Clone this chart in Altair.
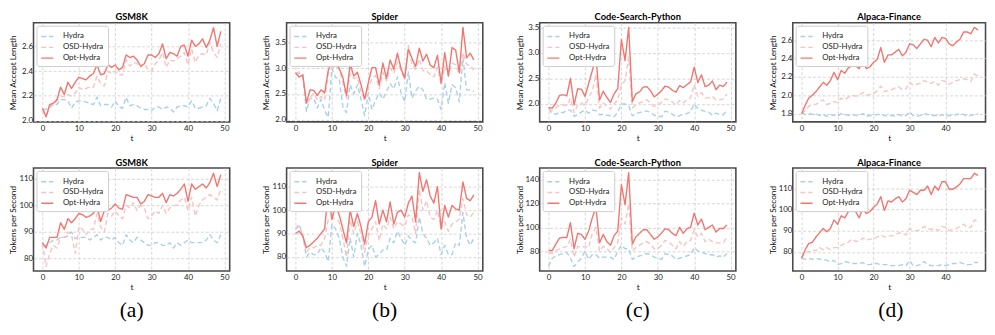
import altair as alt
import pandas as pd

t = list(range(50))
series_names = ["Hydra", "OSD-Hydra", "Opt-Hydra"]
series_colors = ["#a9d0e6", "#f8c3c3", "#f0766f"]

# ---- Mean Accept Length ----
gsm_acc_hydra = [2.09, 2.09, 2.12, 2.14, 2.13, 2.17, 2.17, 2.16, 2.10, 2.15, 2.16, 2.16, 2.15, 2.14, 2.13, 2.19, 2.12, 2.13, 2.13, 2.11,
                 2.16, 2.11, 2.10, 2.19, 2.12, 2.13, 2.12, 2.10, 2.09, 2.09, 2.08, 2.11, 2.11, 2.09, 2.11, 2.10, 2.07, 2.11, 2.12, 2.12,
                 2.11, 2.16, 2.10, 2.10, 2.11, 2.12, 2.18, 2.14, 2.08, 2.18]
gsm_acc_osd = [2.09, 2.04, 2.10, 2.13, 2.16, 2.20, 2.19, 2.21, 2.20, 2.22, 2.27, 2.25, 2.26, 2.27, 2.27, 2.36, 2.30, 2.28, 2.40, 2.38,
               2.40, 2.37, 2.37, 2.49, 2.44, 2.47, 2.46, 2.43, 2.46, 2.41, 2.40, 2.46, 2.49, 2.55, 2.43, 2.49, 2.48, 2.50, 2.52, 2.55,
               2.45, 2.58, 2.47, 2.53, 2.54, 2.53, 2.63, 2.55, 2.51, 2.62]
gsm_acc_opt = [2.10, 2.03, 2.13, 2.14, 2.17, 2.27, 2.21, 2.31, 2.26, 2.31, 2.35, 2.34, 2.33, 2.36, 2.38, 2.45, 2.37, 2.38, 2.45, 2.43,
               2.45, 2.41, 2.43, 2.53, 2.51, 2.52, 2.49, 2.44, 2.46, 2.53, 2.53, 2.51, 2.54, 2.62, 2.50, 2.55, 2.54, 2.52, 2.60, 2.61,
               2.52, 2.65, 2.60, 2.62, 2.66, 2.59, 2.65, 2.75, 2.60, 2.72]

spider_acc_hydra = [2.92, 2.90, 2.84, 2.16, 2.42, 2.42, 2.23, 2.40, 2.18, 2.05, 3.00, 2.82, 2.80, 2.25, 2.14, 2.68, 2.50, 2.68, 2.40, 2.08,
                    2.52, 2.20, 2.38, 2.52, 2.40, 2.55, 2.70, 2.60, 2.83, 2.52, 2.35, 2.93, 2.42, 2.56, 2.65, 2.58, 2.40, 2.40, 2.42, 2.40,
                    2.20, 2.72, 2.32, 2.68, 2.62, 2.35, 3.20, 2.58, 2.58, 2.55]
spider_acc_osd = [2.90, 2.93, 2.88, 2.30, 2.43, 2.52, 2.38, 2.45, 2.38, 2.90, 3.00, 3.05, 2.98, 2.72, 2.42, 2.90, 2.80, 2.82, 2.55, 2.38,
                  2.62, 2.80, 2.86, 2.60, 2.92, 2.75, 3.00, 2.90, 3.12, 2.95, 2.78, 3.44, 3.07, 2.98, 3.18, 2.95, 2.95, 2.88, 2.83, 3.02,
                  2.69, 3.04, 2.85, 3.10, 3.07, 2.88, 3.30, 3.07, 3.05, 2.96]
spider_acc_opt = [2.91, 2.83, 2.87, 2.33, 2.58, 2.57, 2.47, 2.58, 2.52, 2.96, 3.12, 3.14, 3.00, 2.82, 2.47, 3.08, 2.85, 2.92, 2.68, 2.40,
                  2.72, 3.01, 3.01, 2.68, 3.10, 2.80, 3.16, 2.98, 3.29, 2.99, 2.81, 3.37, 3.19, 3.03, 3.39, 3.14, 3.27, 3.06, 3.01, 3.25,
                  2.71, 3.30, 2.85, 3.40, 3.35, 2.92, 3.79, 3.20, 3.29, 3.16]

code_acc_hydra = [1.91, 1.81, 1.80, 1.84, 1.83, 1.88, 1.88, 1.76, 1.79, 1.84, 1.88, 1.82, 1.88, 1.87, 1.79, 1.80, 1.78, 1.77, 1.75, 1.84,
                  2.00, 2.00, 1.97, 1.77, 1.81, 1.83, 1.86, 1.86, 1.84, 1.78, 1.77, 1.75, 1.86, 1.84, 1.80, 1.75, 1.77, 1.80, 1.81, 1.85,
                  2.00, 1.91, 1.88, 1.85, 1.84, 1.78, 1.82, 1.79, 1.79, 1.87]
code_acc_osd = [1.90, 1.87, 1.92, 1.98, 1.98, 1.97, 2.11, 1.83, 1.98, 2.02, 1.97, 2.12, 2.25, 2.58, 1.92, 2.02, 1.97, 1.90, 2.00, 2.08,
                2.38, 2.45, 2.92, 1.92, 1.98, 2.02, 2.05, 2.08, 2.02, 1.95, 1.98, 2.03, 2.10, 2.08, 2.04, 1.98, 2.07, 2.02, 2.08, 2.12,
                2.38, 2.15, 2.22, 2.12, 2.12, 2.15, 2.08, 2.08, 2.10, 2.20]
code_acc_opt = [1.93, 1.92, 2.02, 2.17, 2.18, 2.16, 2.50, 1.98, 2.30, 2.29, 2.15, 2.40, 2.65, 2.93, 2.08, 2.25, 2.13, 2.03, 2.20, 2.30,
                3.26, 2.85, 3.50, 2.05, 2.20, 2.24, 2.33, 2.34, 2.26, 2.14, 2.19, 2.26, 2.35, 2.33, 2.27, 2.23, 2.36, 2.32, 2.38, 2.43,
                2.72, 2.42, 2.57, 2.34, 2.37, 2.45, 2.28, 2.37, 2.34, 2.43]

alpaca_acc_hydra = [1.81, 1.79, 1.80, 1.79, 1.80, 1.78, 1.79, 1.77, 1.79, 1.78, 1.77, 1.80, 1.79, 1.78, 1.79, 1.78, 1.78, 1.80, 1.77, 1.78,
                    1.78, 1.79, 1.79, 1.78, 1.77, 1.78, 1.77, 1.79, 1.77, 1.78, 1.82, 1.78, 1.77, 1.78, 1.80, 1.79, 1.78, 1.78, 1.77, 1.79,
                    1.77, 1.78, 1.78, 1.79, 1.80, 1.79, 1.77, 1.78, 1.79, 1.80]
alpaca_acc_osd = [1.80, 1.83, 1.88, 1.90, 1.90, 1.93, 1.95, 1.90, 1.91, 1.93, 1.92, 1.97, 1.95, 1.98, 2.00, 1.99, 2.00, 2.03, 2.00, 2.01,
                  2.02, 2.05, 2.10, 2.04, 2.05, 2.06, 2.08, 2.09, 2.06, 2.07, 2.14, 2.11, 2.12, 2.13, 2.16, 2.14, 2.13, 2.15, 2.11, 2.16,
                  2.15, 2.12, 2.14, 2.16, 2.17, 2.18, 2.17, 2.15, 2.23, 2.21]
alpaca_acc_opt = [1.80, 1.89, 1.97, 2.00, 2.04, 2.09, 2.14, 2.11, 2.16, 2.25, 2.17, 2.27, 2.24, 2.30, 2.32, 2.32, 2.29, 2.37, 2.29, 2.31,
                  2.36, 2.39, 2.52, 2.36, 2.44, 2.44, 2.47, 2.50, 2.43, 2.47, 2.56, 2.55, 2.51, 2.56, 2.61, 2.60, 2.53, 2.63, 2.57, 2.63,
                  2.62, 2.56, 2.54, 2.58, 2.61, 2.69, 2.69, 2.67, 2.74, 2.71]

# ---- Tokens per Second ----
gsm_tps_hydra = [85, 85, 86, 87, 87, 88, 88, 88.5, 90, 87.5, 88, 88, 88, 87, 88, 89, 87, 88, 88, 87,
                 88, 86, 85, 89, 87, 86, 88, 87, 86, 85, 85, 86, 86, 85, 85, 86, 84, 86, 85, 86,
                 87, 86, 86, 86, 86, 87, 89, 87, 86, 89]
gsm_tps_osd = [86, 77, 82, 85, 84, 88, 88, 90, 89, 82, 92, 91, 89, 91, 91, 97, 92, 90, 97, 96,
               98, 96, 95, 100, 99, 101, 98, 100, 99, 95, 96, 98, 97, 100, 97, 99, 100, 100, 102, 103,
               98, 103, 96, 100, 102, 103, 104, 103, 102, 106]
gsm_tps_opt = [86, 84, 88, 88, 88, 93.5, 91, 95, 93.5, 95, 97, 96.5, 95.5, 96, 97, 99.5, 94, 98, 98, 99,
               100.5, 99, 98.5, 104, 103.5, 103, 103, 100.5, 101.5, 104, 103.5, 103, 103, 104.5, 101, 104, 103.5, 104.5, 106, 108,
               101.5, 108, 106, 107, 108, 106.5, 108.5, 112, 107, 111.5]

spider_tps_hydra = [92, 94, 89, 80, 82, 81, 81, 84, 82, 78, 94, 92, 88, 80, 76, 88, 80, 90, 85, 76,
                    83, 85, 80, 81, 83, 83, 88, 86, 91, 88, 85, 89, 87, 86, 97, 90, 88, 85, 86, 88,
                    81, 85, 81, 81, 86, 85, 99, 88, 85, 88]
spider_tps_osd = [92, 93, 89, 82, 84, 84, 85, 85, 88, 96, 97, 96, 95, 88, 80, 96, 90, 95, 90, 82,
                  89, 92, 95, 87, 94, 92, 97, 92, 95, 94, 93, 98, 97, 90, 109, 100, 104, 97, 96, 100,
                  92, 95, 91, 94, 95, 96, 105, 98, 97, 99]
spider_tps_opt = [90, 91, 89, 84, 85, 86.5, 88, 90, 92, 108, 96, 102, 98, 92, 86, 100, 93, 98.5, 93, 85.5,
                  95, 97, 104, 94, 100, 95, 103.5, 94, 99, 100, 97, 103, 106, 95, 116, 108, 113, 106, 103, 110,
                  92, 102, 97, 102, 100.5, 100, 112, 105, 104, 106.5]

code_tps_hydra = [67, 74, 76, 77, 78, 79, 74, 67, 71, 74, 80, 73, 77, 77, 74, 75, 75, 75, 73, 80,
                  85, 82, 82, 73, 75, 76, 77, 78, 77, 75, 74, 73, 78, 77, 76, 73, 74, 75, 76, 77,
                  83, 80, 79, 78, 77, 77, 75, 76, 75, 78]
code_tps_osd = [79, 78, 80, 82, 83, 84, 90, 75, 84, 83, 84, 83, 95, 100, 80, 84, 82, 79, 83, 87,
                108, 103, 120, 80, 83, 85, 87, 88, 86, 82, 82, 85, 89, 88, 85, 82, 88, 84, 88, 89,
                98, 92, 95, 88, 90, 88, 87, 87, 87, 92]
code_tps_opt = [80.5, 80.5, 86, 91, 91.5, 91.5, 104, 82, 95, 94, 90, 97, 108, 117, 87, 94, 88, 85, 93, 97,
                136, 119, 146, 86, 92, 95, 98, 98, 94, 90, 92, 95, 99, 98, 95, 93, 100, 95, 99, 100,
                112, 102, 107, 98, 100, 102, 96, 99, 99, 102]

alpaca_tps_hydra = [77, 76.5, 77, 76.5, 77, 76.5, 76.5, 76, 75.5, 76, 74, 74.5, 75.5, 75, 74.5, 74.5, 74.5, 75, 74, 74,
                    74.5, 74.5, 74, 74, 74, 73.5, 73.5, 73.5, 74, 73.5, 76, 73.5, 73.5, 74, 75.5, 74, 73.5, 73.5, 73.5, 74,
                    73.5, 74, 74.5, 74.5, 75, 74.5, 74, 74, 75, 75]
alpaca_tps_osd = [77, 80, 80, 81, 80.5, 82, 81, 82, 81, 82, 82, 83, 84, 84.5, 86, 85, 85, 86.5, 85.5, 86,
                  86, 87, 88, 87, 87.5, 87.5, 88, 89, 88.5, 88, 91, 90, 90, 90.5, 92, 91, 90.5, 91, 90, 92,
                  91.5, 90, 90.5, 91, 92, 93, 91.5, 91.5, 95, 94.5]
alpaca_tps_opt = [77, 81, 84, 84.5, 87, 89, 91, 89.5, 91, 95, 93, 97, 96, 99, 99.5, 99, 96, 100.5, 98, 99,
                  101, 102.5, 106, 99.5, 104, 103.5, 105, 106, 103.5, 105, 109, 108, 107, 109, 109, 111, 107, 111, 109, 113,
                  113, 109.5, 109.5, 110.5, 112, 114.5, 114.5, 114.5, 117, 116]

titles = ["GSM8K", "Spider", "Code-Search-Python", "Alpaca-Finance"]
panel_labels = ["(a)", "(b)", "(c)", "(d)"]

acc_sets = [(gsm_acc_hydra, gsm_acc_osd, gsm_acc_opt),
            (spider_acc_hydra, spider_acc_osd, spider_acc_opt),
            (code_acc_hydra, code_acc_osd, code_acc_opt),
            (alpaca_acc_hydra, alpaca_acc_osd, alpaca_acc_opt)]
tps_sets = [(gsm_tps_hydra, gsm_tps_osd, gsm_tps_opt),
            (spider_tps_hydra, spider_tps_osd, spider_tps_opt),
            (code_tps_hydra, code_tps_osd, code_tps_opt),
            (alpaca_tps_hydra, alpaca_tps_osd, alpaca_tps_opt)]

acc_domains = [[1.99, 2.79], [1.96, 3.88], [1.65, 3.59], [1.71, 2.79]]
acc_ticks = [[2.0, 2.2, 2.4, 2.6], [2.0, 2.5, 3.0, 3.5], [2.0, 2.5, 3.0, 3.5], [1.8, 2.0, 2.2, 2.4, 2.6]]
tps_domains = [[75.4, 114.0], [74.0, 118.0], [63.3, 150.0], [71.0, 119.5]]
tps_ticks = [[80, 90, 100, 110], [80, 90, 100, 110], [80, 100, 120, 140], [80, 90, 100, 110]]

# the last column is cut off at the right edge of the picture, as in the reference
x_domains = [[-2.45, 51.45], [-2.45, 51.45], [-2.45, 51.45], [-2.45, 51.09]]
x_ticks = [[0, 10, 20, 30, 40, 50], [0, 10, 20, 30, 40, 50], [0, 10, 20, 30, 40, 50], [0, 10, 20, 30, 40]]
widths = [200, 200, 200, 196.5]

H_TOP = 101
H_BOT = 105


def make_panel(i, title, ytitle, sets, ydom, yticks, yfmt, height, label=None):
    rows = []
    for name, vals in zip(series_names, sets):
        for ti, v in zip(t, vals):
            rows.append({"t": ti, "value": v, "series": name})
    df = pd.DataFrame(rows)
    w = widths[i]
    leg = alt.Legend(title=None, orient="top-left")
    lines = alt.Chart(df).mark_line(strokeJoin="round").encode(
        x=alt.X("t:Q", scale=alt.Scale(domain=x_domains[i], nice=False, zero=False),
                axis=alt.Axis(values=x_ticks[i], title="t", format="d")),
        y=alt.Y("value:Q", scale=alt.Scale(domain=ydom, nice=False, zero=False),
                axis=alt.Axis(values=yticks, title=ytitle, format=yfmt)),
        color=alt.Color("series:N", scale=alt.Scale(domain=series_names, range=series_colors), legend=leg),
        strokeDash=alt.StrokeDash("series:N", scale=alt.Scale(domain=series_names, range=[[5, 3], [5, 3], [1, 0]]), legend=leg),
        strokeWidth=alt.StrokeWidth("series:N", scale=alt.Scale(domain=series_names, range=[1.4, 1.4, 1.8]), legend=leg),
    )
    ch = lines
    if label is not None:
        lab = alt.Chart(pd.DataFrame({"lab": [label]})).mark_text(
            font="Liberation Serif", fontSize=22, baseline="middle", align="center", color="black"
        ).encode(text="lab:N", x=alt.value(100), y=alt.value(height + 40))
        ch = alt.layer(lines, lab)
    return ch.properties(width=w, height=height,
                         title=alt.TitleParams(title, fontSize=9.5, fontWeight="bold", font="Lato", offset=1))


panels = []
for i in range(4):
    panels.append(make_panel(i, titles[i], "Mean Accept Length", acc_sets[i], acc_domains[i], acc_ticks[i], ".1f", H_TOP))
for i in range(4):
    panels.append(make_panel(i, titles[i], "Tokens per Second", tps_sets[i], tps_domains[i], tps_ticks[i], "d", H_BOT, panel_labels[i]))

chart = alt.concat(*panels, columns=4, spacing={"row": 13, "column": 31}).resolve_scale(
    x="independent", y="independent", color="independent", strokeDash="independent", strokeWidth="independent"
).resolve_legend(
    color="independent", strokeDash="independent", strokeWidth="independent"
).configure(
    font="Lato", padding=0, background="white"
).configure_view(
    stroke="#4a4a4a", strokeWidth=1.6
).configure_axis(
    labelFont="Lato", labelFontSize=8, labelColor="#222222", ticks=False, domain=False,
    grid=True, gridColor="#cccccc", gridDash=[3, 2], gridWidth=0.8,
    titleFont="Lato", titleFontSize=8.5, titleFontWeight="normal", titleColor="#111111"
).configure_axisX(
    labelPadding=3, titlePadding=1
).configure_axisY(
    labelPadding=1, titlePadding=1, minExtent=15, maxExtent=15
).configure_legend(
    fillColor="white", strokeColor="#cccccc", cornerRadius=2, padding=4, offset=3,
    symbolType="stroke", symbolSize=150, labelFont="Lato", labelFontSize=8, labelColor="#222222",
    rowPadding=0, labelOffset=9
).configure_title(
    color="black", anchor="middle"
)

chart.save("out.html", embed_options={"renderer": "svg", "actions": False})
